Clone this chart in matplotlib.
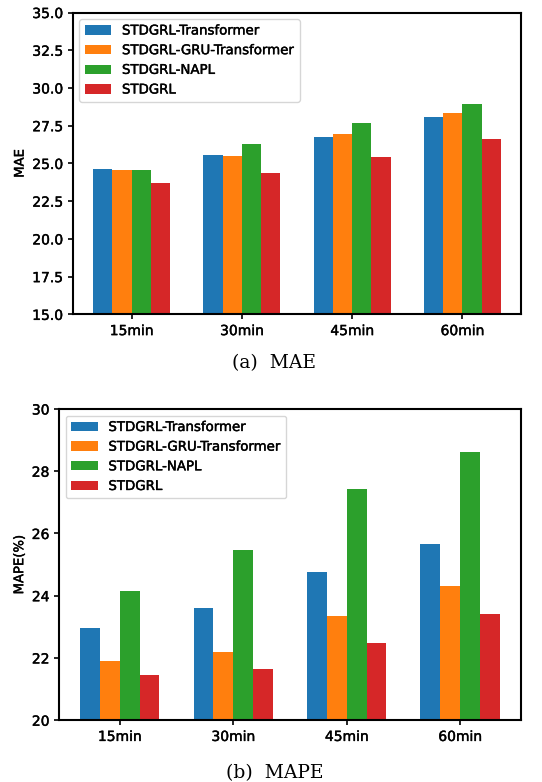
import matplotlib.pyplot as plt
import matplotlib.patheffects as pe
import numpy as np

horizons = ["15min", "30min", "45min", "60min"]
models = ["STDGRL-Transformer", "STDGRL-GRU-Transformer", "STDGRL-NAPL", "STDGRL"]
colors = ["#1f77b4", "#ff7f0e", "#2ca02c", "#d62728"]

# MAE per model, one value per horizon
mae_transformer = [24.66, 25.54, 26.76, 28.08]
mae_gru_transformer = [24.59, 25.50, 26.96, 28.35]
mae_napl = [24.55, 26.31, 27.71, 28.97]
mae_stdgrl = [23.73, 24.39, 25.43, 26.60]

# MAPE(%) per model
mape_transformer = [22.97, 23.59, 24.75, 25.66]
mape_gru_transformer = [21.91, 22.19, 23.34, 24.31]
mape_napl = [24.15, 25.47, 27.44, 28.61]
mape_stdgrl = [21.44, 21.66, 22.48, 23.40]

mae = [mae_transformer, mae_gru_transformer, mae_napl, mae_stdgrl]
mape = [mape_transformer, mape_gru_transformer, mape_napl, mape_stdgrl]

# slight stroke so the text looks as heavy as in the scanned figure
thick = [pe.withStroke(linewidth=0.3, foreground="black")]

fig = plt.figure(figsize=(5.42, 7.82), dpi=100)
ax1 = fig.add_axes([0.134, 0.598, 0.828, 0.386])
ax2 = fig.add_axes([0.109, 0.079, 0.852, 0.398])

x = np.arange(len(horizons))
w = 0.175


def draw(ax, data, ylabel, ylim, yticks, fmt):
    for i in range(4):
        ax.bar(x + (i - 1.5) * w, data[i], w, color=colors[i], label=models[i])
    ax.set_xticks(x)
    ax.set_xticklabels(horizons, fontsize=10)
    ax.set_ylim(*ylim)
    ax.set_yticks(yticks)
    ax.set_yticklabels([fmt % v for v in yticks], fontsize=10)
    ax.set_ylabel(ylabel, fontsize=9.5, path_effects=thick)
    for s in ax.spines.values():
        s.set_linewidth(1.5)
    ax.tick_params(width=1.2)
    for t in ax.get_xticklabels() + ax.get_yticklabels():
        t.set_path_effects(thick)
    leg = ax.legend(loc="upper left", fontsize=9.6, handlelength=2.0, labelspacing=0.5)
    for t in leg.get_texts():
        t.set_path_effects(thick)


draw(ax1, mae, "MAE", (15, 35), np.arange(15, 35.1, 2.5), "%.1f")
draw(ax2, mape, "MAPE(%)", (20, 30), np.arange(20, 30.1, 2), "%d")

fig.text(0.506, 0.536, "(a)  MAE", ha="center", va="center", fontsize=13.5, family="DejaVu Serif")
fig.text(0.506, 0.012, "(b)  MAPE", ha="center", va="center", fontsize=13.5, family="DejaVu Serif")

fig.savefig("out.png", dpi=100)
